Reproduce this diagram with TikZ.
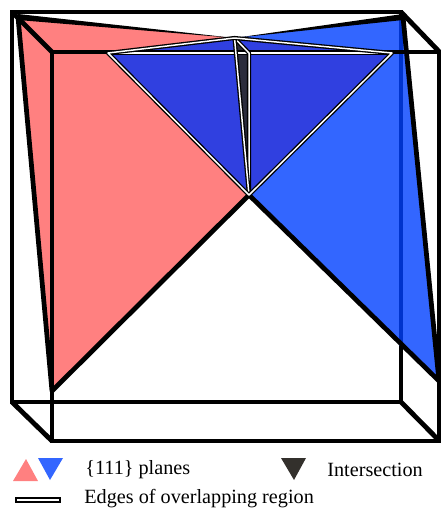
\documentclass[tikz,border=0pt]{standalone}
\usepackage{fontspec}
\setmainfont{Liberation Serif}

\tikzset{
  cubeedge/.style={black,line width=2.75pt,line join=miter},
  planeedge/.style={black,line width=2.7pt,line join=round},
  overlapedge/.style={draw=black,line width=0.75pt,double=white,double distance=0.85pt,line join=round},
  legendtext/.style={anchor=west,inner sep=0pt,font=\fontsize{11.5}{14}\selectfont}
}
\definecolor{planered}{HTML}{FF8080}
\definecolor{planeblue}{HTML}{3366FF}
\definecolor{overlapblue}{HTML}{3040E0}
\definecolor{seenblue}{HTML}{0033CC}
\definecolor{interdark}{HTML}{2B2C3C}
\definecolor{legenddark}{HTML}{33302C}

\begin{document}
\begin{tikzpicture}[x=0.02cm,y=-0.02cm]
  \useasboundingbox (0,0) rectangle (440,510);
  % cube corners
  \coordinate (bTL) at (12,12);
  \coordinate (bTR) at (401,12);
  \coordinate (bBR) at (401,402);
  \coordinate (bBL) at (12,402);
  \coordinate (fTL) at (52,52);
  \coordinate (fTR) at (439.5,52);
  \coordinate (fBR) at (439.5,441);
  \coordinate (fBL) at (52,441);
  % plane corners
  \coordinate (apex) at (234.5,38);
  \coordinate (tip) at (249,195);
  \coordinate (redTop) at (18,17);
  \coordinate (redLow) at (52,391);
  \coordinate (blueTop) at (403,17);
  \coordinate (blueLow) at (439,381);
  \coordinate (ovL) at (108,53);
  \coordinate (ovR) at (392,53);
  \coordinate (ovM) at (249,53);

  \draw[cubeedge] (bTL) -- (bTR) -- (bBR) -- (bBL) -- cycle;
  \fill[planered] (redTop) -- (apex) -- (tip) -- (redLow) -- cycle;
  \fill[planeblue] (blueTop) -- (apex) -- (tip) -- (blueLow) -- cycle;
  \fill[overlapblue] (ovL) -- (apex) -- (ovR) -- (tip) -- cycle;
  \fill[interdark] (apex) -- (ovM) -- (tip) -- cycle;
  \fill[seenblue] (399,19) rectangle (403,346);

  \draw[planeedge] (redTop) -- (redLow) -- (tip) -- (blueLow) -- (blueTop);
  % top sides of the planes get thin toward the apex
  \fill[black] (18,14) -- (apex) -- (18,20) -- cycle;
  \fill[black] (403,14) -- (apex) -- (403,20) -- cycle;
  \draw[cubeedge] (fTL) -- (fTR) -- (fBR) -- (fBL) -- cycle;
  \draw[cubeedge] (bTL) -- (fTL) (bTR) -- (fTR) (bBR) -- (fBR) (bBL) -- (fBL);

  \draw[overlapedge] (ovL) -- (ovR);
  \draw[overlapedge] (apex) -- (ovM) -- (tip);
  \draw[overlapedge] (apex) -- (tip);
  \draw[overlapedge] (ovL) -- (apex) -- (ovR) -- (tip) -- cycle;

  % legend
  \fill[planered] (13,481) -- (38,481) -- (26,459) -- cycle;
  \fill[planeblue] (38,458) -- (63,458) -- (50,480) -- cycle;
  \fill[legenddark] (281,458) -- (306,458) -- (294,480) -- cycle;
  \draw[black,line width=0.7pt,fill=white] (16,498) rectangle (60,502);
  \node[legendtext] (planes) at (85,470) {\{111\} planes};
  \node[legendtext] (inter) at (327,470) {Intersection};
  \node[legendtext] (edges) at (84,499) {Edges of overlapping region};
\end{tikzpicture}
\end{document}
